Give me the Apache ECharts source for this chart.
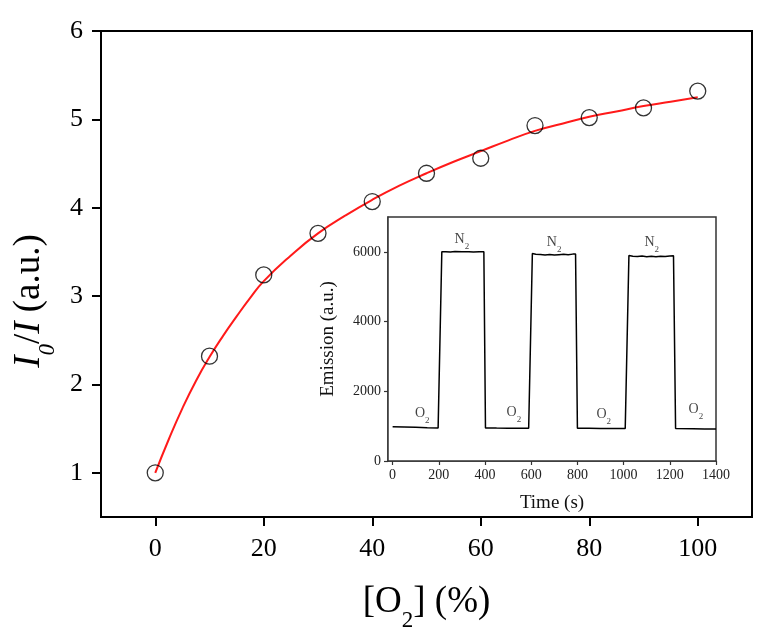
<!DOCTYPE html>
<html>
<head>
<meta charset="utf-8">
<script src="https://cdn.jsdelivr.net/npm/echarts@6/dist/echarts.min.js"></script>
<style>
html,body{margin:0;padding:0;background:#fff;}
#chart{width:759px;height:628px;}
</style>
</head>
<body>
<div id="chart"></div>
<script>
// Main chart: measured points I0/I vs [O2] (%)
var o2Percent = [0, 10, 20, 30, 40, 50, 60, 70, 80, 90, 100];
var ratioMeasured = [1.0, 2.32, 3.24, 3.71, 4.07, 4.39, 4.56, 4.93, 5.02, 5.13, 5.32];
// Fitted curve
var fitX = [0, 2.5, 5, 7.5, 10, 12.5, 15, 17.5, 20, 25, 30, 35, 40, 45, 50, 55, 60, 65, 70, 75, 80, 85, 90, 95, 100];
var fitY = [1.0, 1.38, 1.73, 2.04, 2.31, 2.55, 2.77, 2.98, 3.17, 3.46, 3.71, 3.91, 4.09, 4.25, 4.39, 4.52, 4.64, 4.76, 4.87, 4.95, 5.03, 5.09, 5.15, 5.20, 5.25];
var mainXTicks = [0, 20, 40, 60, 80, 100];
var mainYTicks = [1, 2, 3, 4, 5, 6];

// Inset: emission vs time
var timeS = [0, 50, 100, 150, 197, 213, 230, 250, 270, 300, 330, 350, 375, 395, 402, 450, 500, 550, 589, 605, 620, 640, 660, 680, 700, 720, 740, 760, 780, 792, 800, 850, 900, 950, 1007, 1023, 1040, 1060, 1080, 1100, 1120, 1140, 1160, 1180, 1200, 1216, 1225, 1300, 1350, 1400];
var emission = [984, 975, 965, 955, 950, 6000, 6005, 5995, 6008, 6000, 6003, 5998, 6005, 6000, 950, 946, 943, 941, 940, 5950, 5930, 5922, 5912, 5925, 5910, 5920, 5928, 5918, 5935, 5935, 940, 938, 935, 933, 932, 5895, 5875, 5865, 5878, 5862, 5872, 5860, 5875, 5868, 5882, 5885, 930, 925, 921, 918];
var insetXTicks = [0, 200, 400, 600, 800, 1000, 1200, 1400];
var insetYTicks = [0, 2000, 4000, 6000];
// Gas annotations (time, emission, gas)
var gasLabelTime = [300, 699, 1122, 128, 525, 914, 1313];
var gasLabelValue = [6400, 6300, 6300, 1400, 1430, 1370, 1520];
var gasLabelName = ['N', 'N', 'N', 'O', 'O', 'O', 'O'];

var serif = "'Liberation Serif', 'DejaVu Serif', serif";

var chart = echarts.init(document.getElementById('chart'), null, {renderer: 'canvas'});

function zip(a, b) { return a.map(function (v, i) { return [v, b[i]]; }); }
function plain(v) { return String(v); }

var option = {
  animation: false,
  backgroundColor: '#fff',
  grid: [
    {left: 101, top: 31, right: 7, bottom: 111, show: true, borderColor: '#000', borderWidth: 2, backgroundColor: 'transparent', containLabel: false, outerBoundsMode: 'none'},
    {left: 388, top: 217, right: 43, bottom: 167, show: true, borderColor: '#333', borderWidth: 1.5, backgroundColor: '#fff', z: 1, containLabel: false, outerBoundsMode: 'none'}
  ],
  xAxis: [
    {
      type: 'value', gridIndex: 0, min: -10, max: 110,
      splitLine: {show: false},
      axisLine: {onZero: false, lineStyle: {color: '#000', width: 2}},
      axisTick: {show: true, inside: false, length: 9, lineStyle: {color: '#000', width: 2}, customValues: mainXTicks},
      axisLabel: {customValues: mainXTicks, formatter: plain, color: '#000', fontFamily: serif, fontSize: 26, margin: 19},
      name: '{n|[O}{s|2}{n|] (%)}',
      nameLocation: 'middle', nameGap: 62,
      nameTextStyle: {
        rich: {
          n: {fontFamily: serif, fontSize: 37, color: '#000', lineHeight: 42, verticalAlign: 'bottom'},
          s: {fontFamily: serif, fontSize: 23, color: '#000', lineHeight: 42, verticalAlign: 'bottom', padding: [0, 0, -11, 0]}
        }
      }
    },
    {
      type: 'value', gridIndex: 1, min: -20, max: 1400,
      splitLine: {show: false},
      axisLine: {onZero: false, lineStyle: {color: '#333', width: 1.5}},
      axisTick: {show: true, inside: false, length: 4, lineStyle: {color: '#333', width: 1.2}, customValues: insetXTicks},
      axisLabel: {customValues: insetXTicks, formatter: plain, color: '#222', fontFamily: serif, fontSize: 14, margin: 7},
      name: 'Time (s)', nameLocation: 'middle', nameGap: 33,
      nameTextStyle: {fontFamily: serif, fontSize: 19, color: '#111'}
    }
  ],
  yAxis: [
    {
      type: 'value', gridIndex: 0, min: 0.5, max: 6,
      splitLine: {show: false},
      axisLine: {onZero: false, lineStyle: {color: '#000', width: 2}},
      axisTick: {show: true, inside: false, length: 9, lineStyle: {color: '#000', width: 2}, customValues: mainYTicks},
      axisLabel: {customValues: mainYTicks, formatter: plain, color: '#000', fontFamily: serif, fontSize: 26, margin: 18},
      name: '{i|I}{s|0}{n|/}{i|I}{n| (a.u.)}',
      nameLocation: 'middle', nameGap: 51, nameRotate: 90,
      nameTextStyle: {
        padding: [0, 54, 0, 0],
        rich: {
          i: {fontFamily: serif, fontStyle: 'italic', fontSize: 37, color: '#000', lineHeight: 42, verticalAlign: 'bottom'},
          n: {fontFamily: serif, fontSize: 37, color: '#000', lineHeight: 42, verticalAlign: 'bottom'},
          s: {fontFamily: serif, fontStyle: 'italic', fontSize: 23, color: '#000', lineHeight: 42, verticalAlign: 'bottom', padding: [0, 0, -11, 0]}
        }
      }
    },
    {
      type: 'value', gridIndex: 1, min: 0, max: 7000,
      splitLine: {show: false},
      axisLine: {onZero: false, lineStyle: {color: '#333', width: 1.5}},
      axisTick: {show: true, inside: false, length: 4, lineStyle: {color: '#333', width: 1.2}, customValues: insetYTicks},
      axisLabel: {customValues: insetYTicks, formatter: plain, color: '#222', fontFamily: serif, fontSize: 14, margin: 7},
      name: 'Emission (a.u.)', nameLocation: 'middle', nameGap: 50, nameRotate: 90,
      nameTextStyle: {fontFamily: serif, fontSize: 19, color: '#111'}
    }
  ],
  series: [
    {
      type: 'line', xAxisIndex: 0, yAxisIndex: 0, data: zip(fitX, fitY),
      smooth: true, showSymbol: false, symbol: 'none',
      lineStyle: {color: '#ff1a1a', width: 2}, z: 2
    },
    {
      type: 'scatter', xAxisIndex: 0, yAxisIndex: 0, data: zip(o2Percent, ratioMeasured),
      symbol: 'circle', symbolSize: 16,
      itemStyle: {color: 'rgba(0,0,0,0)', borderColor: '#000', borderWidth: 1.3}, z: 3
    },
    {
      type: 'line', xAxisIndex: 1, yAxisIndex: 1, data: zip(timeS, emission),
      showSymbol: false, symbol: 'none',
      lineStyle: {color: '#000', width: 1.5}, z: 4
    },
    {
      type: 'scatter', xAxisIndex: 1, yAxisIndex: 1, symbolSize: 0, z: 5,
      data: gasLabelTime.map(function (t, i) { return [t, gasLabelValue[i]]; }),
      label: {
        show: true, position: 'inside',
        formatter: function (p) { return '{g|' + gasLabelName[p.dataIndex] + '}{s|2}'; },
        rich: {
          g: {fontFamily: serif, fontSize: 14, color: '#111', lineHeight: 16, verticalAlign: 'bottom'},
          s: {fontFamily: serif, fontSize: 9, color: '#111', lineHeight: 16, verticalAlign: 'bottom', padding: [0, 0, -5, 0]}
        }
      }
    }
  ]
};
chart.setOption(option);
</script>
</body>
</html>
